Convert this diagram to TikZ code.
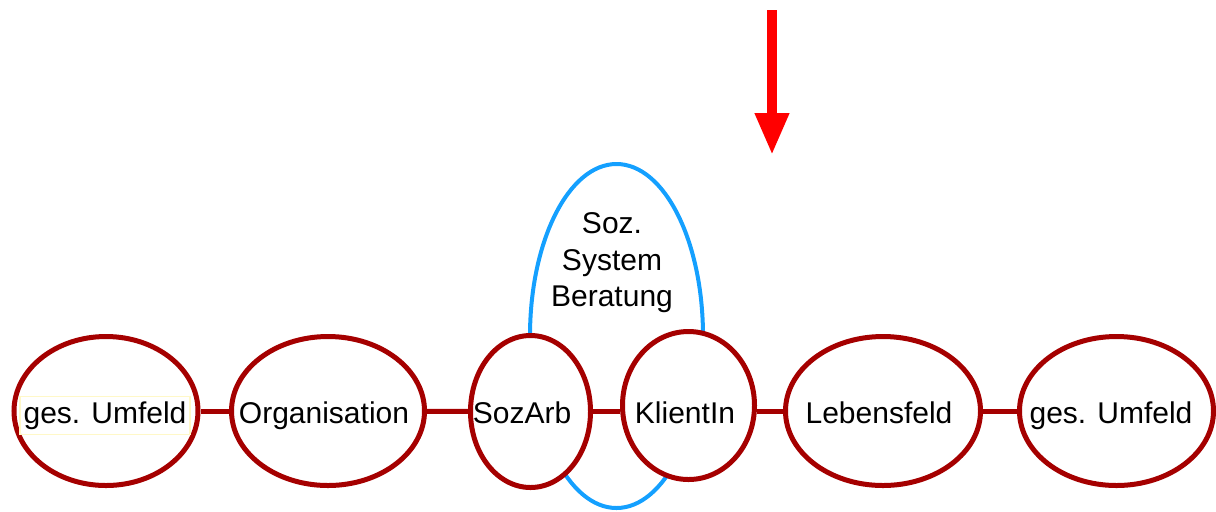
\documentclass[tikz,border=0pt]{standalone}
\usepackage{fontspec}
\setmainfont{Liberation Sans}
\usetikzlibrary{shapes.geometric,arrows.meta}
\definecolor{darkred}{RGB}{165,0,0}
\definecolor{skyblue}{RGB}{20,160,255}
\definecolor{paleyellow}{RGB}{255,248,200}

\begin{document}
\begin{tikzpicture}[x=0.5pt,y=-0.5pt,
  field/.style={draw=darkred,ellipse,line width=2.5pt,fill=white,inner sep=0pt},
  link/.style={darkred,line width=2.5pt},
  lbl/.style={font=\fontsize{15}{18.25}\selectfont,anchor=base,inner sep=0pt}]
  \useasboundingbox (0,0) rectangle (1216,511);

  % Soz. System (behind the fields)
  \node[draw=skyblue,ellipse,line width=2pt,inner sep=0pt,minimum width=86.5pt,minimum height=172pt] (system) at (616.5,336) {};
  \node[font=\fontsize{15}{18.25}\selectfont,align=center,inner sep=0pt] (systxt) at (612,263) {Soz.\\System\\Beratung};

  % fields
  \node[field,minimum width=92pt,minimum height=74.5pt] (u1) at (106,411) {};
  \node[field,minimum width=96.5pt,minimum height=74.5pt] (org) at (328,411) {};
  \node[field,minimum width=60pt,minimum height=76pt] (sozarb) at (530.5,411.5) {};
  \node[field,minimum width=66pt,minimum height=74pt] (klient) at (688.5,405.5) {};
  \node[field,minimum width=97.5pt,minimum height=74.5pt] (leben) at (883,411) {};
  \node[field,minimum width=97pt,minimum height=74.5pt] (u2) at (1116.5,411) {};

  % links
  \draw[link] (u1) -- (org);
  \draw[link] (org) -- (sozarb);
  \draw[link] (sozarb.east) -- (sozarb.east -| klient.west);
  \draw[link] (leben.west -| klient.east) -- (leben.west);
  \draw[link] (leben) -- (u2);

  % labels
  \node[lbl,draw=paleyellow,line width=0.6pt,inner xsep=1.75pt,inner ysep=2.5pt] (u1txt) at (105,423) {ges. Umfeld};
  \node[lbl] (orgtxt) at (324,423) {Organisation};
  \node[lbl] (sozarbtxt) at (522,423) {SozArb};
  \node[lbl] (klienttxt) at (685,423) {KlientIn};
  \node[lbl] (lebentxt) at (879,423) {Lebensfeld};
  \node[lbl] (u2txt) at (1111,423) {ges. Umfeld};

  % red arrow
  \coordinate (arrtop) at (772,10);
  \coordinate (arrtip) at (772,155);
  \draw[red,line width=5pt,-{Triangle[width=16pt,length=21pt]}] (arrtop) -- (arrtip);
\end{tikzpicture}
\end{document}
